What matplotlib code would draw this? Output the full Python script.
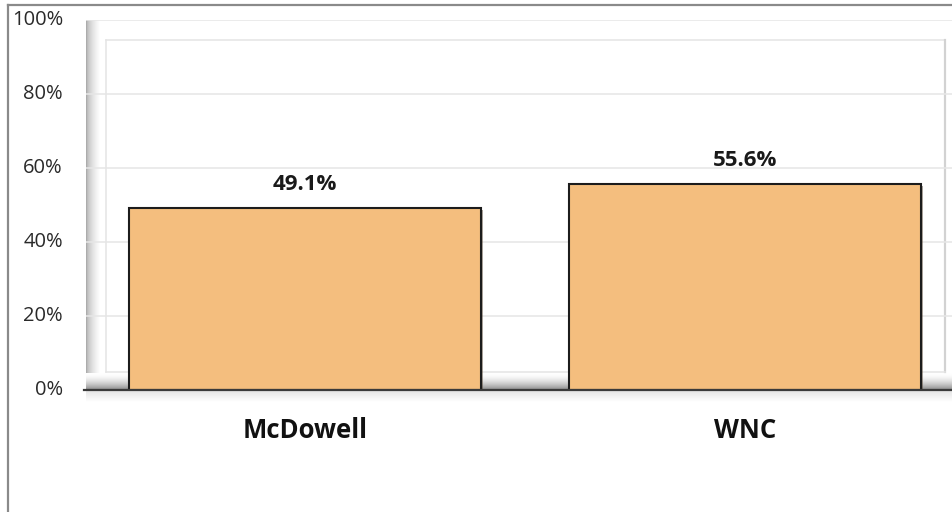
import numpy as np
import matplotlib
matplotlib.use("Agg")
import matplotlib.pyplot as plt
from matplotlib.lines import Line2D
from matplotlib import patheffects as pe

plt.rcParams['font.family'] = ['Open Sans', 'DejaVu Sans']

categories = ["McDowell", "WNC"]
values = [49.1, 55.6]
y_ticks = [0, 20, 40, 60, 80, 100]
y_tick_labels = ["0%", "20%", "40%", "60%", "80%", "100%"]

W, H = 952, 512
fig = plt.figure(figsize=(W / 100, H / 100), dpi=100)

# plot region in pixels
ax_left, ax_right = 86, 952
ax_bottom, ax_top = 390, 20
ax = fig.add_axes([ax_left / W, (H - ax_bottom) / H,
                   (ax_right - ax_left) / W, (ax_bottom - ax_top) / H])

px_per_cat = 440.0
x0 = -(305 - ax_left) / px_per_cat
x1 = 1 + (ax_right - 745) / px_per_cat

def px_x(p):
    return x0 + (p - ax_left) / px_per_cat

def px_y(p):
    return (ax_bottom - p) / (ax_bottom - ax_top) * 100

# left side wall gradient
wall = np.linspace(0.0, 1.0, 64).reshape(1, -1)
wall = 0.62 + 0.38 * np.sqrt(wall)
ax.imshow(np.dstack([wall] * 3), extent=(px_x(86), px_x(100), px_y(380), 100),
          aspect='auto', zorder=0.5, interpolation='bilinear')

# floor gradient
floor = np.linspace(0.0, 1.0, 64).reshape(-1, 1)
floor = 1.0 - 0.42 * floor ** 1.8
ax.imshow(np.dstack([floor] * 3), extent=(px_x(86), x1, px_y(389), px_y(373)),
          aspect='auto', zorder=0.55, interpolation='bilinear')

# back wall frame
frame_c = "#e4e4e4"
ax.plot([px_x(106), px_x(106)], [px_y(372), px_y(40)], color=frame_c, lw=1.1, zorder=0.6)
ax.plot([px_x(106), px_x(945)], [px_y(40), px_y(40)], color=frame_c, lw=1.1, zorder=0.6)
ax.plot([px_x(945), px_x(945)], [px_y(372), px_y(40)], color="#d2d2d2", lw=1.6, zorder=0.6)
ax.plot([px_x(106), px_x(945)], [px_y(372), px_y(372)], color=frame_c, lw=1.1, zorder=0.6)

# gridlines
for t in y_ticks[1:]:
    ax.plot([px_x(86), x1], [t, t], color="#e6e6e6", lw=1.1, zorder=0.7)

# base line
ax.plot([px_x(84), x1], [0, 0], color="#3a3a3a", lw=1.6, zorder=3, clip_on=False)

# soft shadow below the floor
shade = np.linspace(0.9, 1.0, 32).reshape(-1, 1)
ax.imshow(np.dstack([shade] * 3), extent=(px_x(86), x1, px_y(402), px_y(391)),
          aspect='auto', zorder=0.4, interpolation='bilinear', clip_on=False)

ax.set_ylim(0, 100)
ax.set_xlim(x0, x1)

xs = np.arange(len(categories))
bars = ax.bar(xs, values, width=0.8, color="#f4be7e", edgecolor="#1c1c1c",
              linewidth=1.5, zorder=2)
for b in bars:
    b.set_path_effects([pe.SimplePatchShadow(offset=(1.5, -1.5), alpha=0.45),
                        pe.Normal()])

for x, v in zip(xs, values):
    ax.annotate(f"{v:.1f}%", (x, v), xytext=(0, 13), textcoords="offset points",
                ha="center", va="baseline", fontsize=16, fontweight="bold",
                color="#1a1a1a")

for x, c in zip(xs, categories):
    ax.text(x, px_y(430), c, ha="center", va="center", fontsize=18.5,
            fontweight="bold", color="#111111", clip_on=False)

for t, lab in zip(y_ticks, y_tick_labels):
    ax.text(px_x(63), t, lab, ha="right", va="center", fontsize=14.5,
            color="#2a2a2a", clip_on=False)

ax.set_xticks([])
ax.set_yticks([])
for s in ax.spines.values():
    s.set_visible(False)
ax.patch.set_alpha(0)

# chart border
bc = "#8a8a8a"
fig.add_artist(Line2D([8 / W, 8 / W], [0, (H - 5) / H], color=bc, lw=1.6))
fig.add_artist(Line2D([8 / W, 1], [(H - 5) / H, (H - 5) / H], color=bc, lw=1.6))

fig.savefig("out.png", dpi=100)
